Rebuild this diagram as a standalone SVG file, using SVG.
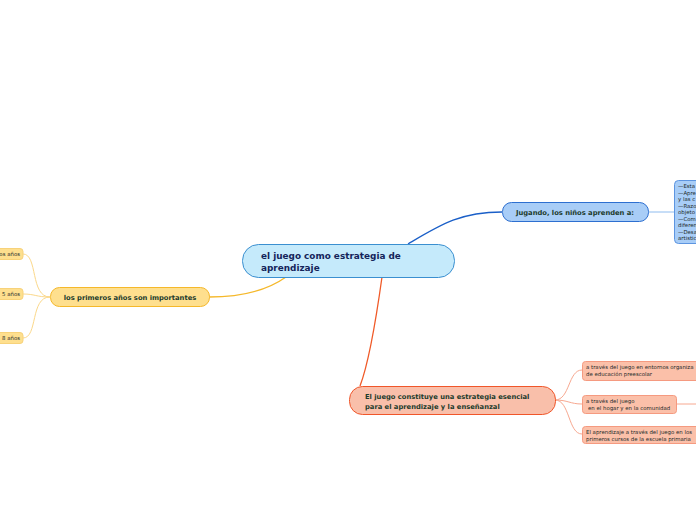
<svg xmlns="http://www.w3.org/2000/svg" width="696" height="520" viewBox="0 0 696 520">
<style>
text{font-family:"DejaVu Sans",Verdana,sans-serif;}
.t1{font-size:8.9px;font-weight:bold;fill:#14245a;}
.t2{font-size:6.75px;font-weight:bold;fill:#1c3b2c;}
.t3{font-size:5.4px;fill:#1c2a2a;}
.c{fill:none;}
</style>
<rect width="696" height="520" fill="#ffffff"/>
<g id="connectors">
<path class="c" d="M408,244 C440,225 460,212 502,212" stroke="#1a5fc8" stroke-width="1.3"/>
<path class="c" d="M648,212 L674,212" stroke="#8fbcef" stroke-width="1"/>
<path class="c" d="M286,277 C265,292 240,297 209,297" stroke="#f5b82a" stroke-width="1.3"/>
<path class="c" d="M50,297 C30,297 38,254 23,254" stroke="#fbd88a" stroke-width="1"/>
<path class="c" d="M50,297 C36,297 35,294 23,294" stroke="#fbd88a" stroke-width="1"/>
<path class="c" d="M50,297 C30,297 38,338 23,338" stroke="#fbd88a" stroke-width="1"/>
<path class="c" d="M382,277 C376,320 368,365 360,386" stroke="#f05a28" stroke-width="1.3"/>
<path class="c" d="M555,400 C570,400 568,370 582,370" stroke="#f7a890" stroke-width="1"/>
<path class="c" d="M555,400 C568,400 570,404 582,404" stroke="#f7a890" stroke-width="1"/>
<path class="c" d="M555,400 C570,400 568,434 582,434" stroke="#f7a890" stroke-width="1"/>
<path class="c" d="M676,404 L696,404" stroke="#f7a890" stroke-width="1"/>
</g>
<g id="central">
<rect x="242.5" y="244.5" width="212" height="33" rx="16" fill="#c5eafb" stroke="#3a8fd0" stroke-width="1"/>
<text class="t1" x="261" y="258.5">el juego como estrategia de</text>
<text class="t1" x="261" y="270.5">aprendizaje</text>
</g>
<g id="jugando">
<rect x="502.5" y="202.5" width="146" height="19" rx="9" fill="#a8cdf7" stroke="#2d6fd0" stroke-width="1"/>
<text class="t2" x="575" y="214.5" text-anchor="middle">Jugando, los niños aprenden a:</text>
</g>
<g id="jugando-detalle">
<rect x="674.5" y="180.5" width="40" height="63" rx="4" fill="#a8cdf7" stroke="#5d95e0" stroke-width="1"/>
<text class="t3" x="678" y="188">—Esta</text>
<text class="t3" x="678" y="194.5">—Apre</text>
<text class="t3" x="678" y="201">y las c</text>
<text class="t3" x="678" y="207.5">—Razo</text>
<text class="t3" x="678" y="214">objeto</text>
<text class="t3" x="678" y="220.5">—Com</text>
<text class="t3" x="678" y="227">diferen</text>
<text class="t3" x="678" y="233.5">—Desa</text>
<text class="t3" x="678" y="240">artistic</text>
</g>
<g id="primeros">
<rect x="50.5" y="287.5" width="159" height="19" rx="9" fill="#fedf8e" stroke="#f5b82a" stroke-width="1"/>
<text class="t2" x="130" y="299.5" text-anchor="middle">los primeros años son importantes</text>
</g>
<g id="primeros-1">
<rect x="-20" y="248.5" width="43" height="11" rx="3" fill="#fedf8e" stroke="#f7d27a" stroke-width="1"/>
<text class="t3" x="20" y="256" text-anchor="end">os años</text>
</g>
<g id="primeros-2">
<rect x="-20" y="288.5" width="43" height="11" rx="3" fill="#fedf8e" stroke="#f7d27a" stroke-width="1"/>
<text class="t3" x="20" y="296" text-anchor="end">5 años</text>
</g>
<g id="primeros-3">
<rect x="-20" y="332.5" width="43" height="11" rx="3" fill="#fedf8e" stroke="#f7d27a" stroke-width="1"/>
<text class="t3" x="20" y="340" text-anchor="end">8 años</text>
</g>
<g id="juego-estrategia">
<rect x="349.5" y="386.5" width="206" height="28" rx="13" fill="#f9bfaa" stroke="#f0562a" stroke-width="1"/>
<text class="t2" x="365" y="399">El juego constituye una estrategia esencial</text>
<text class="t2" x="365" y="409">para el aprendizaje y la enseñanzal</text>
</g>
<g id="estrategia-1">
<rect x="582.5" y="361.5" width="130" height="19" rx="3" fill="#fbc0a9" stroke="#f59a80" stroke-width="1"/>
<text class="t3" x="586" y="369">a través del juego en entornos organiza</text>
<text class="t3" x="586" y="376">de educación preescolar</text>
</g>
<g id="estrategia-2">
<rect x="582.5" y="395.5" width="94" height="18" rx="3" fill="#fbc0a9" stroke="#f59a80" stroke-width="1"/>
<text class="t3" x="586" y="402.5">a través del juego</text>
<text class="t3" x="588" y="410">en el hogar y en la comunidad</text>
</g>
<g id="estrategia-3">
<rect x="582.5" y="426.5" width="130" height="17" rx="3" fill="#fbc0a9" stroke="#f59a80" stroke-width="1"/>
<text class="t3" x="586" y="433.5">El aprendizaje a través del juego en los</text>
<text class="t3" x="586" y="440.5">primeros cursos de la escuela primaria</text>
</g>
</svg>
